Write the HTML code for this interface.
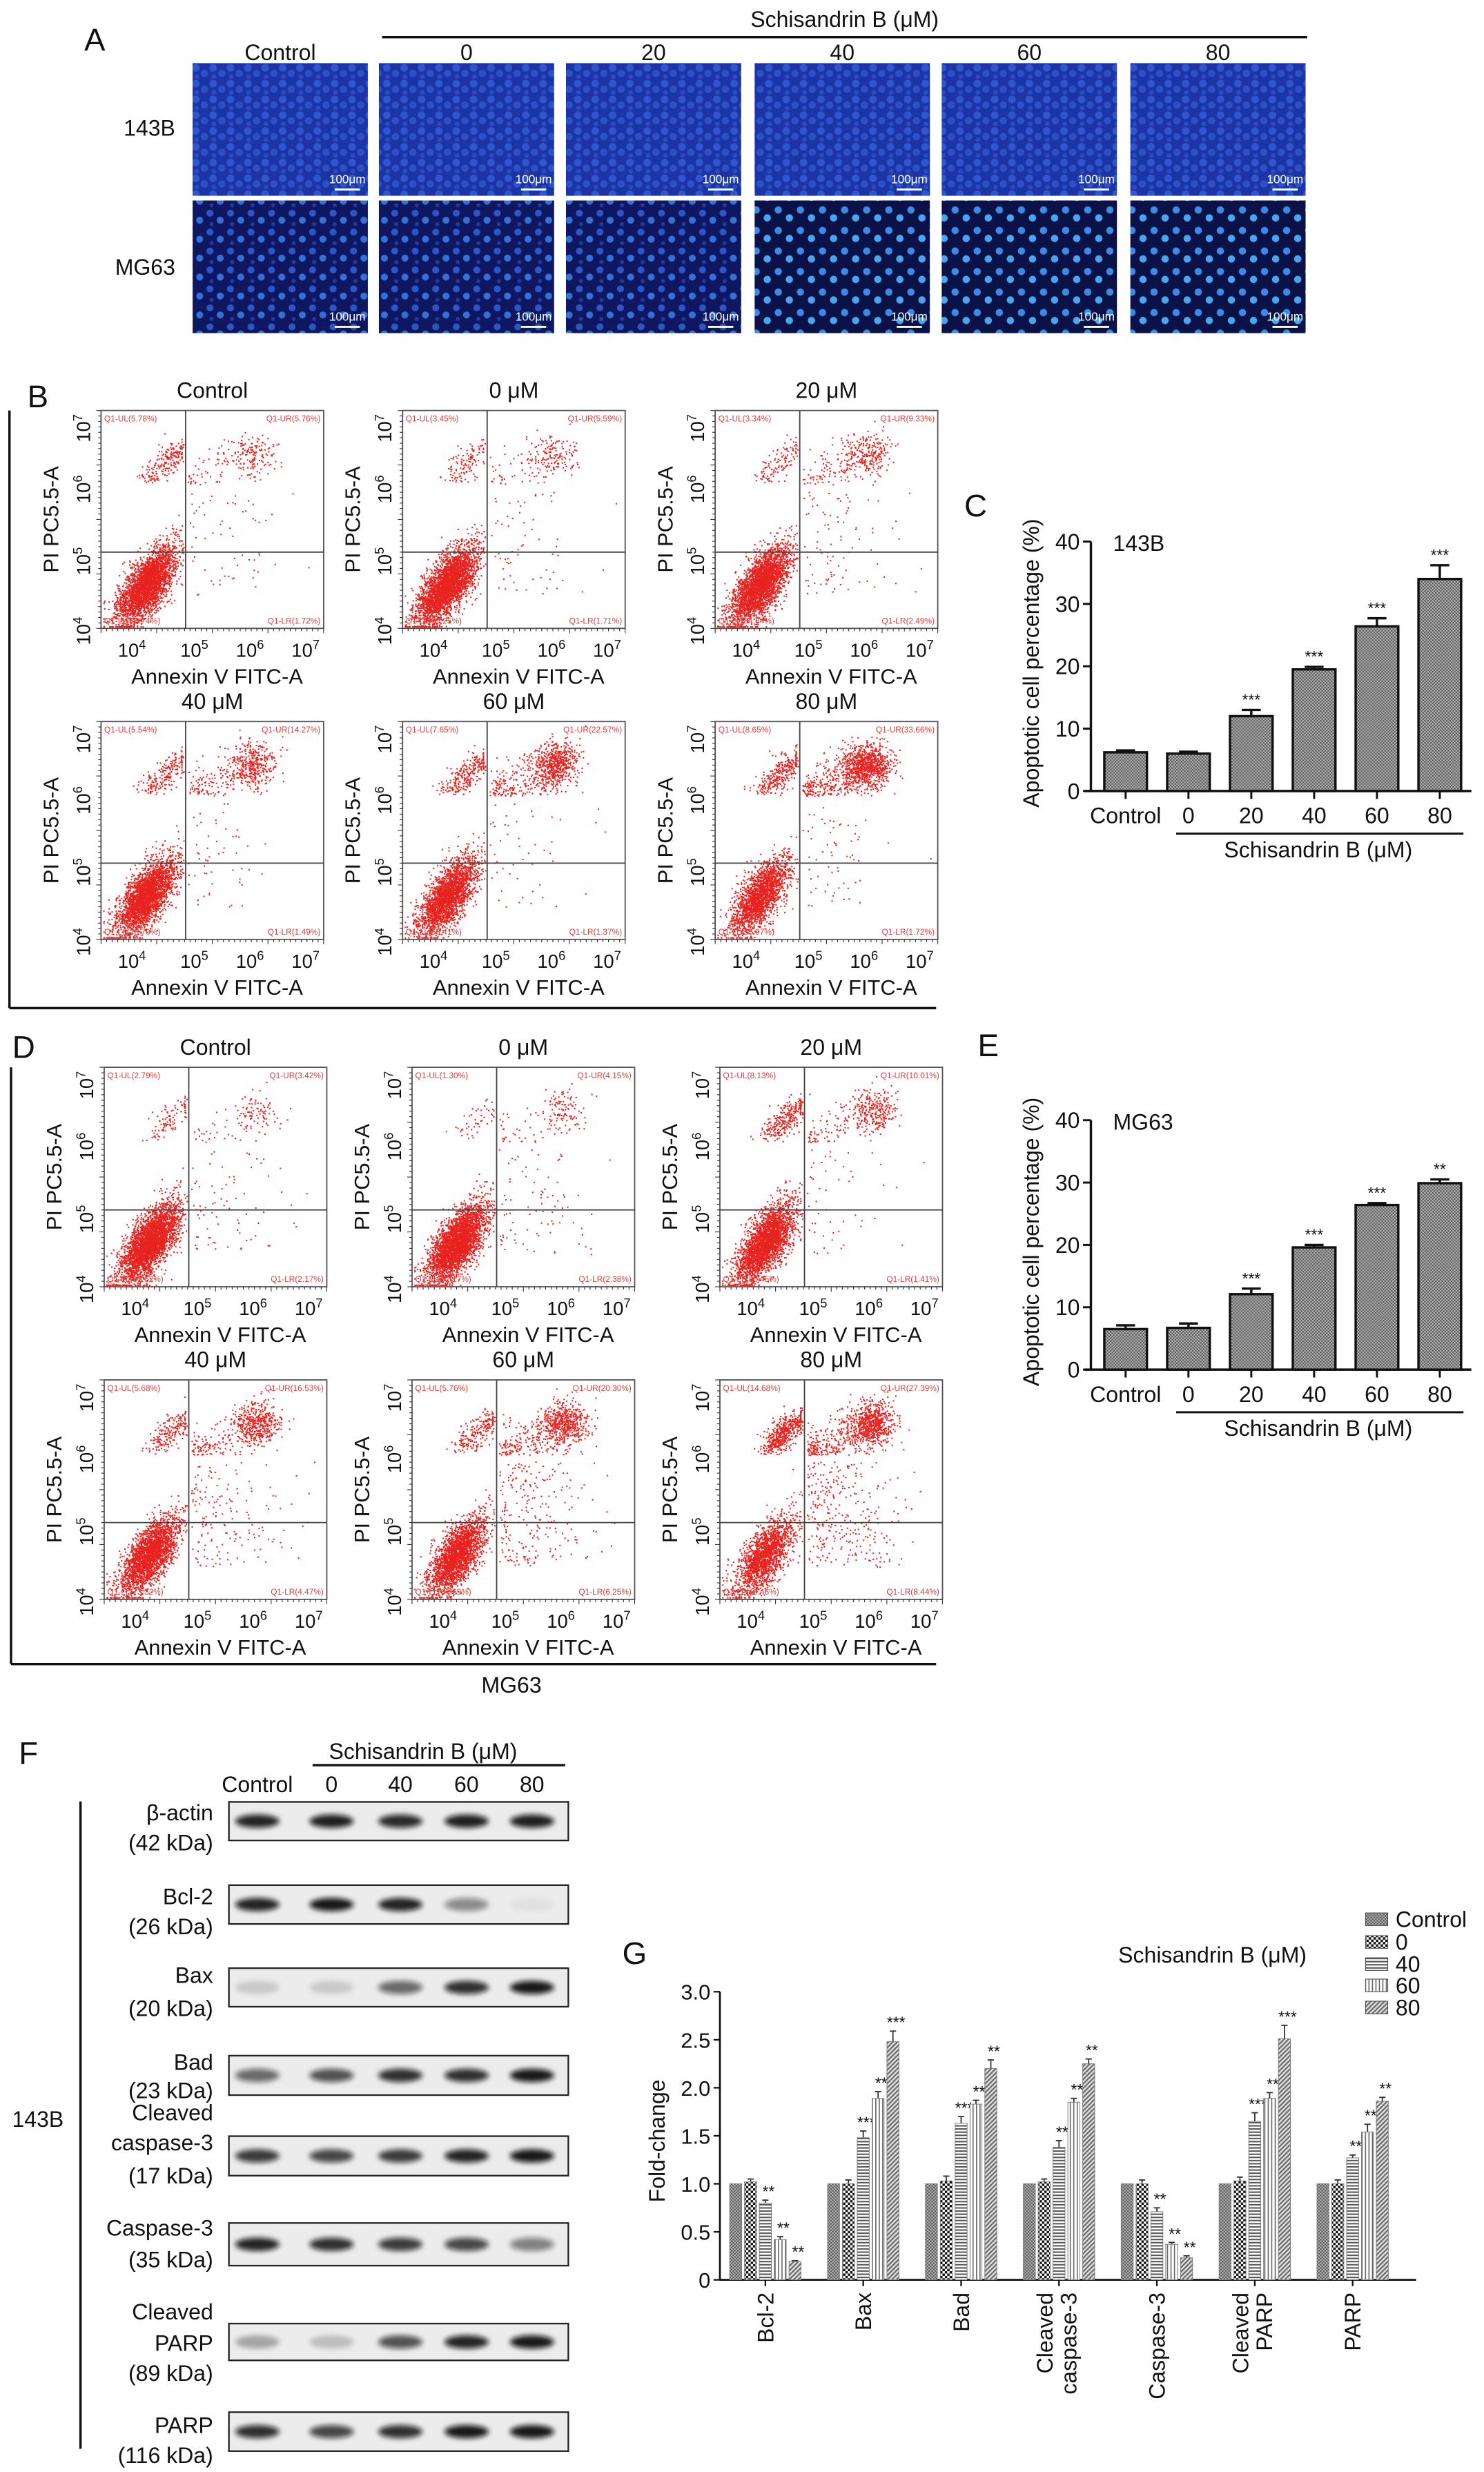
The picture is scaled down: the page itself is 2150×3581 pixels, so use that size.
<!DOCTYPE html>
<html><head><meta charset="utf-8">
<style>
html,body{margin:0;padding:0;background:#fff;}
svg{display:block;font-family:"Liberation Sans",Arial,sans-serif;}
</style></head>
<body>
<svg id="fig" xmlns="http://www.w3.org/2000/svg" width="2150" height="3581" viewBox="0 0 940 1565.7" preserveAspectRatio="none">
<defs>
<pattern id="pCheck" width="2" height="2" patternUnits="userSpaceOnUse"><rect width="2" height="2" fill="#b5b5b5"/><rect width="1" height="1" fill="#5a5a5a"/><rect x="1" y="1" width="1" height="1" fill="#5a5a5a"/></pattern>
<pattern id="pBig" width="3" height="3" patternUnits="userSpaceOnUse"><rect width="3" height="3" fill="#fff"/><rect width="1.5" height="1.5" fill="#111"/><rect x="1.5" y="1.5" width="1.5" height="1.5" fill="#111"/></pattern>
<pattern id="pHor" width="2" height="2" patternUnits="userSpaceOnUse"><rect width="2" height="2" fill="#fff"/><rect width="2" height="0.9" fill="#555"/></pattern>
<pattern id="pVer" width="2.2" height="2" patternUnits="userSpaceOnUse"><rect width="2.2" height="2" fill="#fff"/><rect width="0.7" height="2" fill="#666"/></pattern>
<pattern id="pDiag" width="2" height="2" patternUnits="userSpaceOnUse" patternTransform="rotate(45)"><rect width="2" height="2" fill="#ddd"/><rect width="0.9" height="2" fill="#666"/></pattern>
<pattern id="cells1" width="11" height="10" patternUnits="userSpaceOnUse"><rect width="11" height="10" fill="#1c35a6"/><circle cx="3" cy="3" r="2.4" fill="#2f56cf"/><circle cx="8.5" cy="6.5" r="2.3" fill="#2c50c6"/><circle cx="3.5" cy="8.5" r="1.5" fill="#2a4cc0"/></pattern>
<pattern id="cells2" width="13" height="12" patternUnits="userSpaceOnUse"><rect width="13" height="12" fill="#0e1760"/><circle cx="3" cy="3" r="2.2" fill="#2a56c8"/><circle cx="9.5" cy="7.5" r="2.2" fill="#3470d8"/><circle cx="4" cy="10" r="1.3" fill="#1e3ca0"/></pattern>
<pattern id="cells3" width="14" height="13" patternUnits="userSpaceOnUse"><rect width="14" height="13" fill="#0b1248"/><circle cx="3" cy="3" r="2.3" fill="#3a8ae6"/><circle cx="10" cy="8" r="2.3" fill="#48a6f0"/></pattern>
<filter id="blur" x="-30%" y="-60%" width="160%" height="220%"><feGaussianBlur stdDeviation="1.6"/></filter>
</defs>
</svg>
<script>
const svg=document.getElementById('fig');
const NS='http://www.w3.org/2000/svg';
function mk(tag,attrs,parent){const e=document.createElementNS(NS,tag);for(const k in attrs)e.setAttribute(k,attrs[k]);(parent||svg).appendChild(e);return e;}
function T(str,x,y,size,anchor,name,extra){const e=mk('text',Object.assign({x:x,y:y,'font-size':size,'text-anchor':anchor||'start',fill:'#111'},extra||{}));e.textContent=str;


return e;}
function L(x1,y1,x2,y2,w,name,col){const e=mk('line',{x1:x1,y1:y1,x2:x2,y2:y2,stroke:col||'#111','stroke-width':w});


return e;}

/* ---------- Panel A ---------- */
T('A',60,32,20,'middle','panel-a-label');
T('Schisandrin B (\u03bcM)',535,17,14,'middle','panel-a-treatment-title');
L(242,23.5,828,23.5,1.5,'panel-a-treatment-line');
const aCols=['Control','0','20','40','60','80'];
const aX=[122,240,358.5,478,596.5,716];
const aRows=['143B','MG63'];
const aY=[40,127];
aCols.forEach((c,i)=>{
  T(c,aX[i]+55.5,38,14,'middle','column-label-'+c);
  aRows.forEach((r,j)=>{
    const fill=j===0?'url(#cells1)':(i>=3?'url(#cells3)':'url(#cells2)');
    const im=mk('rect',{x:aX[i],y:aY[j],width:111,height:84,fill:fill});
    
    
    T('100\u03bcm',aX[i]+98,aY[j]+76,7.5,'middle','scale-bar-label',{fill:'#fff'});
    L(aX[i]+90,aY[j]+80,aX[i]+106,aY[j]+80,1.3,'scale-bar','#fff');
  });
});
T('143B',111,86,14,'end','row-label-143B');
T('MG63',111,174,14,'end','row-label-MG63');

/* ---------- Flow cytometry data ---------- */
const bTitles=['Control','0 \u03bcM','20 \u03bcM','40 \u03bcM','60 \u03bcM','80 \u03bcM'];
const bUL=[5.78,3.45,3.34,5.54,7.65,8.65];
const bUR=[5.76,5.59,9.33,14.27,22.57,33.66];
const bLL=[86.74,89.25,84.84,78.70,68.41,55.97];
const bLR=[1.72,1.71,2.49,1.49,1.37,1.72];
const dUL=[2.79,1.30,8.13,5.68,5.76,14.68];
const dUR=[3.42,4.15,10.01,16.53,20.30,27.39];
const dLL=[91.62,92.17,80.45,73.32,67.69,49.46];
const dLR=[2.17,2.38,1.41,4.47,6.25,8.44];

let seed=12345;
function rnd(){seed=(seed*1664525+1013904223)%4294967296;return seed/4294967296;}
function gauss(){let u=rnd()||1e-6,v=rnd();return Math.sqrt(-2*Math.log(u))*Math.cos(2*Math.PI*v);}

function flowPlot(bx,by,w,h,title,ul,ur,ll,lr,tag){
  const g=mk('g',{});
  
  
  T(title,bx+w/2,by-8,14,'middle','flow-title-'+tag);
  const vx=bx+0.38*w, hy=by+0.65*h;
  const px=u=>bx+u*w, py=v=>by+h-v*h;
  const N=3600;
  const dots=mk('g',{fill:'#e8231f'},g);
  
  
  function dot(u,v){u=Math.max(0.01,Math.min(0.99,u));v=Math.max(0.01,Math.min(0.99,v));const c=mk('rect',{x:px(u).toFixed(1),y:py(v).toFixed(1),width:0.9,height:0.9},dots);
    
    }
  const nLL=Math.round(N*ll/100), nUR=Math.round(N*ur/100), nUL=Math.round(N*ul/100), nLR=Math.round(N*lr/100);
  for(let i=0;i<nLL;i++){let u=0.2+gauss()*0.065, v=0.2+(u-0.2)*0.9+gauss()*0.065; if(u>0.37)u=0.37-rnd()*0.05; if(v>0.64)v=0.64-rnd()*0.1; dot(u,v);}
  for(let i=0;i<nUR;i++){let u,v; if(rnd()<0.65){u=0.68+gauss()*0.05; v=0.8+gauss()*0.05;} else {const t=rnd(); u=0.39+t*0.35+gauss()*0.05; v=0.66+t*0.18+gauss()*0.05;} if(u<0.39)u=0.39+rnd()*0.05; if(v<0.66)v=0.66+rnd()*0.05; dot(u,v);}
  for(let i=0;i<nUL;i++){const t=rnd(); let u=0.22+t*0.14+gauss()*0.035, v=0.66+t*0.16+Math.abs(gauss())*0.03; if(u>0.37)u=0.36; dot(u,v);}
  for(let i=0;i<nLR;i++){let u=0.39+Math.abs(gauss())*0.2, v=0.15+rnd()*0.48; if(u>0.97)u=0.39+rnd()*0.3; dot(u,v);}
  const fr=mk('rect',{x:bx,y:by,width:w,height:h,fill:'none',stroke:'#555','stroke-width':0.8},g);
  
  
  L(vx,by,vx,by+h,0.8,'quadrant-gate-vertical','#444');
  L(bx,hy,bx+w,hy,0.8,'quadrant-gate-horizontal','#444');
  const qs={fill:'#e0403a'};
  T('Q1-UL('+ul.toFixed(2)+'%)',bx+2,by+7,5.2,'start','quadrant-ul-label',qs);
  T('Q1-UR('+ur.toFixed(2)+'%)',bx+w-2,by+7,5.2,'end','quadrant-ur-label',qs);
  T('Q1-LL('+ll.toFixed(2)+'%)',bx+2,by+h-3,5.2,'start','quadrant-ll-label',qs);
  T('Q1-LR('+lr.toFixed(2)+'%)',bx+w-2,by+h-3,5.2,'end','quadrant-lr-label',qs);
  for(let i=0;i<=40;i++){L(bx+i*w/40,by+h,bx+i*w/40,by+h+(i%10===0?3:1.8),0.5,'x-minor-tick','#333');L(bx,by+i*h/40,bx-(i%10===0?3:1.8),by+i*h/40,0.5,'y-minor-tick','#333');}
  const xf=[0.16,0.44,0.69,0.94], ex=['4','5','6','7'];
  xf.forEach((f,i)=>{const t=T('10',px(f)-3,by+h+18,12,'middle','x-tick-label-10e'+ex[i]);const s=mk('tspan',{dy:-5,'font-size':8},t);s.textContent=ex[i];
    
    });
  const yf=[0.94,0.66,0.33,0.01], ey=['7','6','5','4'];
  yf.forEach((f,i)=>{const yy=py(f)+3;const t=T('10',0,0,12,'middle','y-tick-label-10e'+ey[i],{transform:'translate('+(bx-7)+','+yy+') rotate(-90)'});const s=mk('tspan',{dy:-5,'font-size':8},t);s.textContent=ey[i];
    
    });
  T('Annexin V FITC-A',bx+w/2+3,by+h+35,13.5,'middle','x-axis-title-'+tag);
  T('PI PC5.5-A',0,0,13.5,'middle','y-axis-title-'+tag,{transform:'translate('+(bx-27)+','+(by+h/2)+') rotate(-90)'});
}
T('B',24,258,20,'middle','panel-b-label');
const bXs=[64,255,453], bYs=[260,457];
for(let k=0;k<6;k++){flowPlot(bXs[k%3],bYs[Math.floor(k/3)],141,138,bTitles[k],bUL[k],bUR[k],bLL[k],bLR[k],'143b-'+k);}
L(6,260,6,638.5,1.5,'panel-b-bracket-vertical');
L(6,638.5,593,638.5,1.5,'panel-b-bracket-bottom');
T('D',15,670,20,'middle','panel-d-label');
const dXs=[66,261,456], dYs=[676,874];
for(let k=0;k<6;k++){flowPlot(dXs[k%3],dYs[Math.floor(k/3)],141,139,bTitles[k],dUL[k],dUR[k],dLL[k],dLR[k],'mg63-'+k);}
L(7,676,7,1054,1.5,'panel-d-bracket-vertical');
L(7,1054,593,1054,1.5,'panel-d-bracket-bottom');
T('MG63',324,1072,14,'middle','panel-d-cell-line-label');

/* ---------- Panels C and E bar charts ---------- */
const barCategories=['Control','0','20','40','60','80'];
const cValues=[6.2,6.0,12.0,19.5,26.4,34.0];
const cErrors=[0.3,0.3,1.0,0.4,1.3,2.2];
const cStars=['','','***','***','***','***'];
const eValues=[6.5,6.7,12.1,19.6,26.4,29.9];
const eErrors=[0.6,0.7,0.9,0.4,0.3,0.6];
const eStars=['','','***','***','***','**'];
const barYTicks=[0,10,20,30,40];

function barChart(oy,values,errors,stars,line,letter,lx,ly){
  T(letter,lx,ly,20,'middle','panel-'+letter.toLowerCase()+'-label');
  const ax=691, y0=501+oy, yt=343+oy;
  const ys=v=>y0-(v/40)*(y0-yt);
  const xs=i=>713+i*39.8;
  L(ax,yt,ax,y0,1.5,'y-axis-line');
  L(ax-4,y0,932,y0,1.5,'x-axis-line');
  barYTicks.forEach(t=>{L(ax-5,ys(t),ax,ys(t),1.3,'y-tick');T(String(t),ax-7,ys(t)+5,14,'end','y-tick-label');});
  values.forEach((v,i)=>{
    const top=ys(v), eTop=ys(v+errors[i]);
    L(xs(i),top,xs(i),eTop,1.5,'error-bar');
    L(xs(i)-6,eTop,xs(i)+6,eTop,1.5,'error-cap');
    const r=mk('rect',{x:xs(i)-13.5,y:top,width:27,height:y0-top,fill:'url(#pCheck)',stroke:'#111','stroke-width':1.5});
    
    
    if(stars[i])T(stars[i],xs(i),eTop-3,10,'middle','significance-stars');
    L(xs(i),y0,xs(i),y0+5,1.3,'x-tick');
    T(barCategories[i],xs(i),521.5+oy,14,'middle','x-tick-label-'+barCategories[i]);
  });
  L(745,528+oy,927,528+oy,1.3,'treatment-underline');
  T('Schisandrin B (\u03bcM)',835,543+oy,14,'middle','x-axis-title');
  T('Apoptotic cell percentage (%)',0,0,14,'middle','y-axis-title',{transform:'translate('+(658)+','+(420+oy)+') rotate(-90)'});
  T(line,705,349+oy,14,'start','cell-line-label');
}
barChart(0,cValues,cErrors,cStars,'143B','C',618,327);
barChart(366.5,eValues,eErrors,eStars,'MG63','E',626,669);

/* ---------- Panel F western blots ---------- */
T('F',18,1117,20,'middle','panel-f-label');
T('Schisandrin B (\u03bcM)',268,1114,14,'middle','panel-f-treatment-title');
L(198,1118,358,1118,1.5,'panel-f-treatment-line');
const fLanes=['Control','0','40','60','80'];
const fLaneX=[163,210,253.6,295.5,337];
fLanes.forEach((l,i)=>T(l,fLaneX[i],1135,14,'middle','lane-label-'+l));
const fRows=['β-actin','Bcl-2','Bax','Bad','Cleaved caspase-3','Caspase-3','Cleaved PARP','PARP'];
const fTop=[1141.3,1194,1246.6,1302,1353,1408,1471.7,1527.8];
const fBot=[1165.7,1218.6,1271,1327,1378,1435,1495,1552.5];
const fIntensity=[[.9,.92,.88,.92,.92],[.9,.95,.9,.45,.05],[.15,.15,.6,.85,.95],[.6,.7,.85,.85,.95],[.8,.75,.8,.9,.95],[.9,.85,.8,.75,.5],[.3,.2,.7,.9,.95],[.85,.75,.85,.95,.95]];
const fLabels=[['β-actin','(42 kDa)'],['Bcl-2','(26 kDa)'],['Bax','(20 kDa)'],['Bad','(23 kDa)'],['Cleaved','caspase-3','(17 kDa)'],['Caspase-3','(35 kDa)'],['Cleaved','PARP','(89 kDa)'],['PARP','(116 kDa)']];
const fLabelY=[[1148,1167],[1201,1220],[1251,1272],[1306,1324],[1338,1357,1378],[1411,1431],[1464,1484,1503],[1536,1555]];
fRows.forEach((r,k)=>{
  const box=mk('rect',{x:145,y:fTop[k],width:215,height:fBot[k]-fTop[k],fill:'#ececec',stroke:'#222','stroke-width':1});
  
  
  const cy=(fTop[k]+fBot[k])/2;
  fIntensity[k].forEach((v,i)=>{
    const b=mk('ellipse',{cx:fLaneX[i],cy:cy,rx:14,ry:4.2,fill:'#111','fill-opacity':v,filter:'url(#blur)'});
    
    
  });
  fLabels[k].forEach((s,j)=>{T(s,135,fLabelY[k][j]+5,14,'end','blot-label');});
});
L(51,1141,51,1551,1.5,'panel-f-bracket');
T('143B',24,1347,14,'middle','panel-f-cell-line-label');

/* ---------- Panel G grouped bar chart ---------- */
const gCategories=['Bcl-2','Bax','Bad','Cleaved caspase-3','Caspase-3','Cleaved PARP','PARP'];
const gSeries=['Control','0','40','60','80'];
const gControl=[1,1,1,1,1,1,1];
const g0=[1.02,1.0,1.03,1.02,1.0,1.03,1.0];
const g40=[0.80,1.48,1.63,1.38,0.71,1.65,1.27];
const g60=[0.42,1.89,1.83,1.85,0.37,1.89,1.54];
const g80=[0.19,2.48,2.20,2.25,0.23,2.51,1.86];
const gErr0=[0.03,0.04,0.05,0.03,0.04,0.04,0.04];
const gErr40=[0.03,0.07,0.07,0.07,0.04,0.09,0.03];
const gErr60=[0.03,0.07,0.04,0.04,0.02,0.06,0.08];
const gErr80=[0.01,0.11,0.09,0.05,0.02,0.14,0.04];
const gStars40=['**','***','***','**','**','***','**'];
const gStars60=['**','**','**','**','**','**','**'];
const gStars80=['**','***','**','**','**','***','**'];
const gYTicks=['0','0.5','1.0','1.5','2.0','2.5','3.0'];
const gPatterns=['url(#pCheck)','url(#pBig)','url(#pHor)','url(#pVer)','url(#pDiag)'];

T('G',402,1244,20,'middle','panel-g-label');
T('Schisandrin B (\u03bcM)',768,1243,14,'middle','panel-g-treatment-title');
const gLegY=[1215.6,1230,1244,1257.5,1271.5];
gSeries.forEach((s,j)=>{
  const r=mk('rect',{x:865,y:gLegY[j]-4,width:14,height:8,fill:gPatterns[j],stroke:'#555','stroke-width':0.5});
  
  
  T(s,884,gLegY[j]+5,14,'start','legend-entry-'+s);
});
{
  const ax=456, y0=1444, unit=60.83;
  const ys=v=>y0-v*unit;
  const gx=i=>484.8+i*62.0;
  L(ax,ys(3),ax,y0,1.2,'g-y-axis-line');
  L(ax,y0,897,y0,1.2,'g-x-axis-line');
  gYTicks.forEach((t,i)=>{L(ax-4,ys(i*0.5),ax,ys(i*0.5),1,'g-y-tick');T(t,ax-6,ys(i*0.5)+5,13.5,'end','g-y-tick-label');});
  const vals=[gControl,g0,g40,g60,g80];
  const errs=[null,gErr0,gErr40,gErr60,gErr80];
  const stars=[null,null,gStars40,gStars60,gStars80];
  gCategories.forEach((c,i)=>{
    vals.forEach((arr,j)=>{
      const cx=gx(i)+(j-2)*9.4;
      const top=ys(arr[i]);
      if(errs[j]){const et=ys(arr[i]+errs[j][i]);L(cx,top,cx,et,0.8,'g-error-bar','#333');L(cx-2,et,cx+2,et,0.8,'g-error-cap','#333');
        if(stars[j])T(stars[j][i],cx+2,et-2,10,'middle','g-significance-stars');}
      const r=mk('rect',{x:cx-3.8,y:top,width:7.6,height:y0-top,fill:gPatterns[j],stroke:'#777','stroke-width':0.4});
      
      
    });
    L(gx(i),y0,gx(i),y0+4,1,'g-x-tick');
    const parts=(c==='Cleaved caspase-3')?['Cleaved','caspase-3']:(c==='Cleaved PARP')?['Cleaved','PARP']:[c];
    parts.forEach((p,k)=>{
      const off=parts.length===2?(k===0?-4:11):5;
      T(p,0,0,14,'end','g-x-tick-label',{transform:'translate('+(gx(i)+off)+','+(y0+8)+') rotate(-90)'});
    });
  });
  T('Fold-change',0,0,14,'middle','g-y-axis-title',{transform:'translate(421,1356) rotate(-90)'});
}
</script>
</body></html>
